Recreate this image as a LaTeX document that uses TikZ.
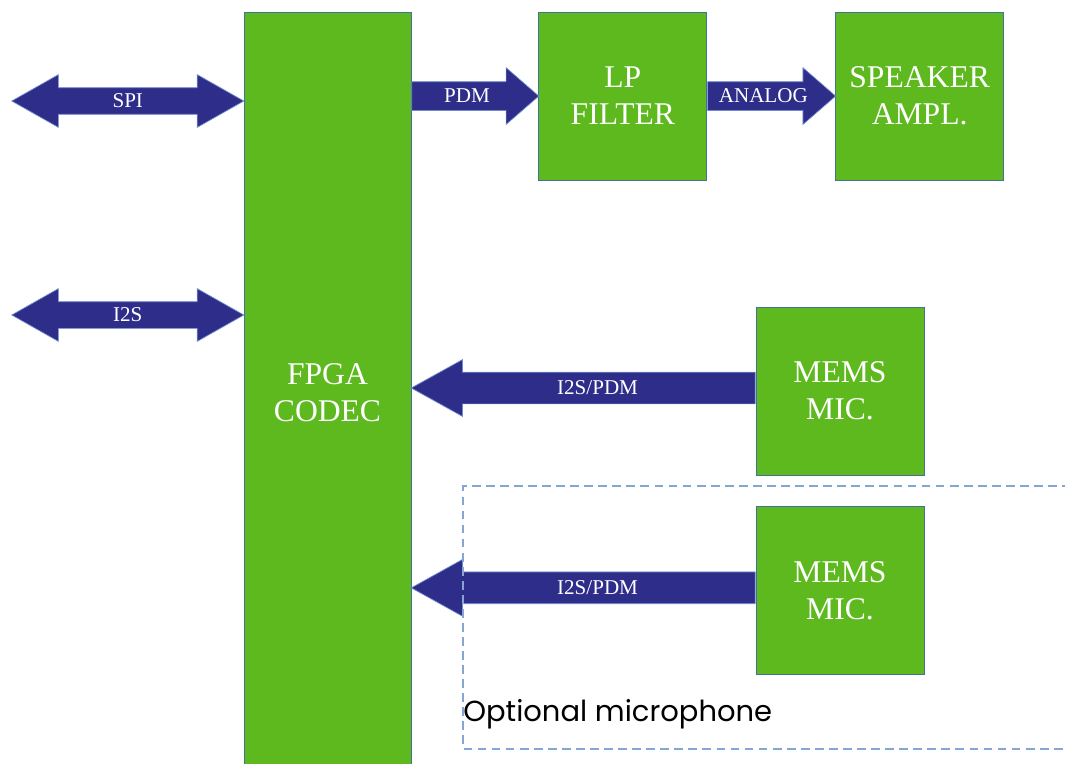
\documentclass[tikz,border=0pt]{standalone}
\usepackage{fontspec}
\setmainfont{Liberation Serif}
\newfontfamily\notafont{Poppins}
\usepackage{tikz}
\usetikzlibrary{positioning,calc,shapes.arrows}
\definecolor{verde}{RGB}{94,185,31}
\definecolor{borde}{RGB}{65,113,156}
\definecolor{flechaazul}{RGB}{46,45,138}
\definecolor{bordeflecha}{RGB}{110,140,205}
\definecolor{punteado}{RGB}{135,165,210}

\begin{document}
\begin{tikzpicture}[x=0.02cm, y=-0.02cm,
    bloque/.style={draw=borde, line width=0.5pt, fill=verde, text=white, align=center,
                   font=\fontsize{18}{21}\selectfont, minimum width=3.36cm, minimum height=3.36cm,
                   inner sep=0pt},
    flecha/.style={single arrow, draw=bordeflecha, line width=0.4pt, fill=flechaazul, text=white,
                   font=\fontsize{12}{12}\selectfont, inner sep=0pt, anchor=tail},
    flechadoble/.style={double arrow, draw=bordeflecha, line width=0.4pt, fill=flechaazul, text=white,
                   font=\fontsize{12}{12}\selectfont, inner sep=0pt,
                   text height=0.39cm, text depth=0.13cm,
                   double arrow head extend=0.26cm, double arrow tip angle=59,
                   minimum height=4.64cm},
    opcional/.style={draw=punteado, line width=0.6pt, dash pattern=on 5pt off 3pt}]
  \useasboundingbox (0,0) rectangle (1065,764);
  \node[bloque, minimum width=3.34cm, minimum height=15.24cm] (fpga) at (327.5,393) {FPGA\\CODEC};
  \node[bloque, right=2.54cm of fpga.north east, anchor=north west] (lp) {LP\\FILTER};
  \node[bloque, right=2.56cm of lp.north east, anchor=north west] (amp) {SPEAKER\\AMPL.};
  \node[bloque] (mic1) at (840,391) {MEMS\\MIC.};
  \node[bloque, below=0.62cm of mic1] (mic2) {MEMS\\MIC.};
  \coordinate (spiext) at (12,101);
  \coordinate (i2sext) at (12,315);
  \node[flechadoble] (spi) at ($(spiext)!.5!(fpga.west |- spiext)$) {SPI};
  \node[flechadoble] (i2s) at ($(i2sext)!.5!(fpga.west |- i2sext)$) {I2S};
  \node[flecha, text height=0.41cm, text depth=0.15cm, single arrow head extend=0.28cm,
        single arrow tip angle=82, minimum height=2.54cm]
        (pdm) at (fpga.east |- lp) {PDM};
  \node[flecha, text height=0.41cm, text depth=0.15cm, single arrow head extend=0.28cm,
        single arrow tip angle=82, minimum height=2.56cm]
        (analog) at (lp.east) {ANALOG};
  \node[flecha, text height=0.44cm, text depth=0.18cm, single arrow head extend=0.25cm,
        single arrow tip angle=58, minimum height=6.88cm, shape border rotate=180]
        (mic1arr) at ($(mic1.west)+(0,-3)$) {I2S/PDM};
  \node[flecha, text height=0.44cm, text depth=0.18cm, single arrow head extend=0.25cm,
        single arrow tip angle=58, minimum height=6.88cm, shape border rotate=180]
        (mic2arr) at ($(mic2.west)+(0,-3)$) {I2S/PDM};
  % zona del microfono opcional
  \draw[opcional] (1085,486) -- (463,486) -- (463,749) -- (1085,749);
  \node[anchor=base west, inner sep=0pt, font=\notafont\fontsize{16.5}{16.5}\selectfont] (nota) at (463,721) {Optional microphone};
\end{tikzpicture}
\end{document}
